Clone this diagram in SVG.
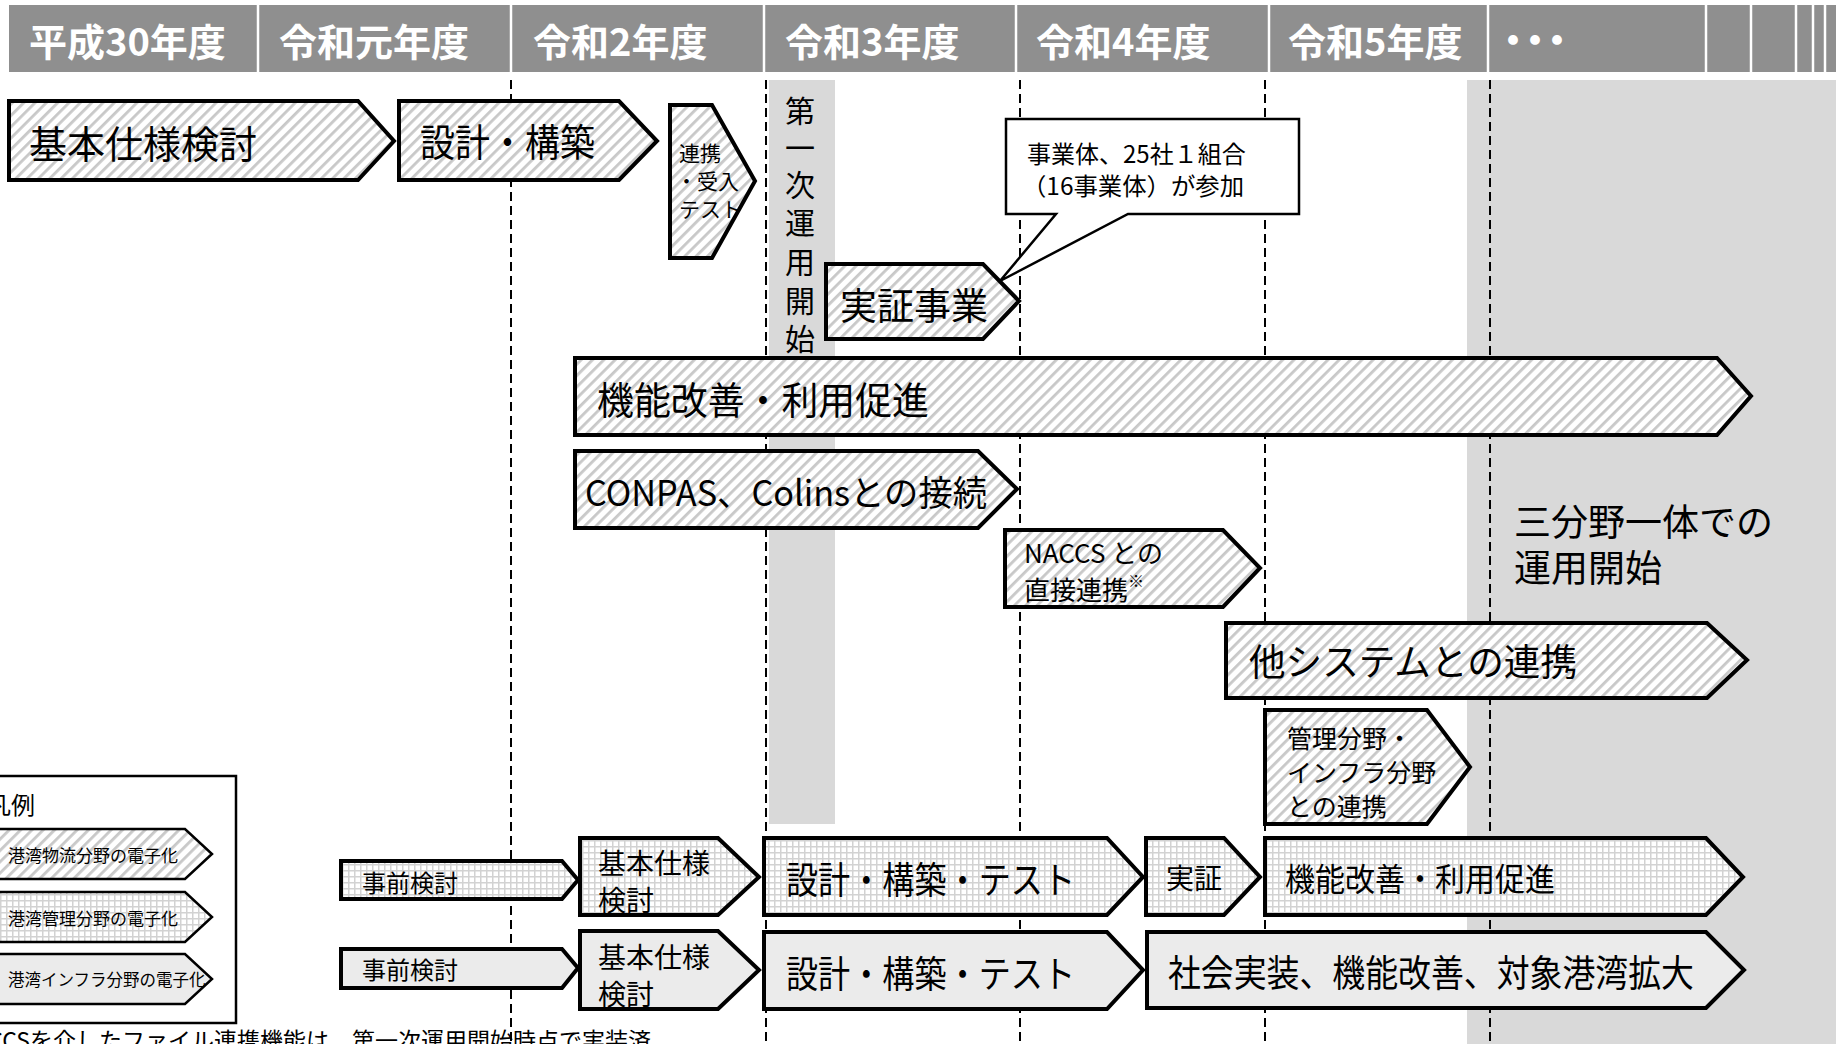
<svg xmlns="http://www.w3.org/2000/svg" width="1836" height="1044" viewBox="0 0 1836 1044">
<defs>
<pattern id="hatch" width="8" height="8" patternUnits="userSpaceOnUse" patternTransform="rotate(45)">
<rect width="8" height="8" fill="#ffffff"/>
<rect width="2.8" height="8" fill="#c8c8c8"/>
</pattern>
<pattern id="grid" width="6" height="6" patternUnits="userSpaceOnUse">
<rect width="6" height="6" fill="#d2d2d2"/>
<rect x="1.5" y="1.5" width="4.5" height="4.5" fill="#ffffff"/>
</pattern>
<style>
.t{font-family:"Noto Sans CJK JP","Noto Sans",sans-serif;fill:#000;dominant-baseline:central}
.h{font-family:"Noto Sans CJK JP","Noto Sans",sans-serif;fill:#fff;font-weight:bold;font-size:38px;dominant-baseline:central}
.a{stroke:#000;stroke-width:4;stroke-linejoin:miter}
.s{stroke:#000;stroke-width:2.5;stroke-linejoin:miter}
.hat{fill:url(#hatch)}
.grd{fill:url(#grid)}
.sol{fill:#ebebeb}
.dash{stroke:#000;stroke-width:2;stroke-dasharray:9 5;fill:none}
</style>
</defs>
<rect width="1836" height="1044" fill="#ffffff"/>
<g id="bands">
<rect x="769" y="80" width="66" height="744" fill="#d9d9d9"/>
<rect x="1467" y="80" width="369" height="964" fill="#d9d9d9"/>
</g>
<g id="header">
<rect x="9" y="5" width="1827" height="67" fill="#8f8f8f"/>
<g stroke="#ffffff" stroke-width="2.5">
<line x1="258" y1="5" x2="258" y2="72"/>
<line x1="511" y1="5" x2="511" y2="72"/>
<line x1="764" y1="5" x2="764" y2="72"/>
<line x1="1016" y1="5" x2="1016" y2="72"/>
<line x1="1269" y1="5" x2="1269" y2="72"/>
<line x1="1488" y1="5" x2="1488" y2="72"/>
<line x1="1706" y1="5" x2="1706" y2="72"/>
<line x1="1751" y1="5" x2="1751" y2="72"/>
<line x1="1796" y1="5" x2="1796" y2="72"/>
<line x1="1813" y1="5" x2="1813" y2="72"/>
<line x1="1825" y1="5" x2="1825" y2="72"/>
</g>
<text class="h" x="29" y="39">平成30年度</text>
<text class="h" x="279" y="39">令和元年度</text>
<text class="h" x="533" y="39">令和2年度</text>
<text class="h" x="785" y="39">令和3年度</text>
<text class="h" x="1036" y="39">令和4年度</text>
<text class="h" x="1288" y="39">令和5年度</text>
<text class="h" x="1494" y="37" font-size="46" letter-spacing="-16">・・・</text>
</g>
<g id="connectors">
<line class="dash" x1="511" y1="80" x2="511" y2="1044"/>
<line class="dash" x1="766" y1="80" x2="766" y2="1044"/>
<line class="dash" x1="1020" y1="80" x2="1020" y2="1044"/>
<line class="dash" x1="1265" y1="80" x2="1265" y2="1044"/>
<line class="dash" x1="1490" y1="80" x2="1490" y2="1044"/>
</g>
<g id="first-operation">
<text class="t" font-size="30" text-anchor="middle"><tspan x="800" y="109">第</tspan><tspan x="800" y="146">一</tspan><tspan x="800" y="183">次</tspan><tspan x="800" y="221">運</tspan><tspan x="800" y="260">用</tspan><tspan x="800" y="299">開</tspan><tspan x="800" y="337">始</tspan></text>
</g>
<g id="n-kihon">
<polygon class="a hat" points="9,101 358,101 394,141 358,180 9,180"/>
<text class="t" x="29" y="141" font-size="38">基本仕様検討</text>
</g>
<g id="n-sekkei">
<polygon class="a hat" points="399,101 619,101 657,141 619,180 399,180"/>
<text class="t" x="420" y="139" font-size="38" textLength="175" lengthAdjust="spacingAndGlyphs">設計・構築</text>
</g>
<g id="n-renkei-test">
<polygon class="a hat" points="670,105 712,105 755,181 712,258 670,258"/>
<text class="t" font-size="21"><tspan x="679" y="152">連携</tspan><tspan x="676" y="180">・受入</tspan><tspan x="679" y="208">テスト</tspan></text>
</g>
<g id="n-jissho">
<polygon class="a hat" points="826,264 983,264 1019,301 983,339 826,339"/>
<text class="t" x="840" y="304" font-size="37">実証事業</text>
</g>
<g id="n-callout">
<path class="s" fill="#ffffff" d="M1006,119 H1299 V214 H1128 L1000,281 L1056,214 H1006 Z"/>
<text class="t" x="1027" y="152" font-size="24">事業体、25社１組合</text>
<text class="t" x="1022" y="184" font-size="24" textLength="222" lengthAdjust="spacingAndGlyphs">（16事業体）が参加</text>
</g>
<g id="n-kinou">
<polygon class="a hat" points="575,358 1717,358 1751,396 1717,435 575,435"/>
<text class="t" x="597" y="397" font-size="38" textLength="332" lengthAdjust="spacingAndGlyphs">機能改善・利用促進</text>
</g>
<g id="n-conpas">
<polygon class="a hat" points="575,451 978,451 1017,489 978,528 575,528"/>
<text class="t" x="585" y="490" font-size="35" textLength="402" lengthAdjust="spacingAndGlyphs">CONPAS、Colinsとの接続</text>
</g>
<g id="n-naccs">
<polygon class="a hat" points="1005,530 1223,530 1260,568 1223,607 1005,607"/>
<text class="t" x="1024" y="551" font-size="26">NACCS との</text>
<text class="t" x="1024" y="588" font-size="26">直接連携<tspan font-size="16" dy="-8">※</tspan></text>
</g>
<g id="n-other">
<polygon class="a hat" points="1226,623 1707,623 1747,660 1707,698 1226,698"/>
<text class="t" x="1249" y="660" font-size="37" textLength="328" lengthAdjust="spacingAndGlyphs">他システムとの連携</text>
</g>
<g id="n-sanbunya">
<text class="t" font-size="37"><tspan x="1514" y="520">三分野一体での</tspan><tspan x="1514" y="566">運用開始</tspan></text>
</g>
<g id="n-kanri-infra">
<polygon class="a hat" points="1265,710 1427,710 1470,767 1427,824 1265,824"/>
<text class="t" font-size="25"><tspan x="1287" y="737">管理分野・</tspan><tspan x="1287" y="771">インフラ分野</tspan><tspan x="1287" y="805">との連携</tspan></text>
</g>
<g id="n-kanri-jizen">
<polygon class="a grd" points="341,861 562,861 578,880 562,899 341,899"/>
<text class="t" x="362" y="881" font-size="24">事前検討</text>
</g>
<g id="n-kanri-kihon">
<polygon class="a grd" points="580,838 718,838 759,877 718,915 580,915"/>
<text class="t" font-size="28"><tspan x="598" y="862">基本仕様</tspan><tspan x="598" y="899">検討</tspan></text>
</g>
<g id="n-kanri-sekkei">
<polygon class="a grd" points="764,838 1107,838 1143,877 1107,915 764,915"/>
<text class="t" x="786" y="878" font-size="37" textLength="289" lengthAdjust="spacingAndGlyphs">設計・構築・テスト</text>
</g>
<g id="n-kanri-jissho">
<polygon class="a grd" points="1146,838 1224,838 1260,877 1224,915 1146,915"/>
<text class="t" x="1166" y="877" font-size="28">実証</text>
</g>
<g id="n-kanri-kinou">
<polygon class="a grd" points="1265,838 1706,838 1743,877 1706,915 1265,915"/>
<text class="t" x="1285" y="877" font-size="32" textLength="270" lengthAdjust="spacingAndGlyphs">機能改善・利用促進</text>
</g>
<g id="n-infra-jizen">
<polygon class="a sol" points="341,949 562,949 578,968 562,988 341,988"/>
<text class="t" x="362" y="968" font-size="24">事前検討</text>
</g>
<g id="n-infra-kihon">
<polygon class="a sol" points="580,931 718,931 759,970 718,1009 580,1009"/>
<text class="t" font-size="28"><tspan x="598" y="956">基本仕様</tspan><tspan x="598" y="993">検討</tspan></text>
</g>
<g id="n-infra-sekkei">
<polygon class="a sol" points="764,932 1107,932 1143,970 1107,1009 764,1009"/>
<text class="t" x="786" y="972" font-size="37" textLength="289" lengthAdjust="spacingAndGlyphs">設計・構築・テスト</text>
</g>
<g id="n-infra-shakai">
<polygon class="a sol" points="1147,932 1706,932 1744,970 1706,1008 1147,1008"/>
<text class="t" x="1168" y="971" font-size="37" textLength="526" lengthAdjust="spacingAndGlyphs">社会実装、機能改善、対象港湾拡大</text>
</g>
<g id="legend">
<rect class="s" x="-5" y="776" width="241" height="247" fill="#ffffff"/>
<text class="t" x="35" y="803" font-size="24" text-anchor="end">凡例</text>
<polygon class="s hat" points="-10,829 185,829 212,854 185,879 -10,879"/>
<text class="t" x="8" y="854" font-size="17">港湾物流分野の電子化</text>
<polygon class="s grd" points="-10,892 185,892 212,917 185,942 -10,942"/>
<text class="t" x="8" y="917" font-size="17">港湾管理分野の電子化</text>
<polygon class="s sol" points="-10,954 185,954 212,979 185,1004 -10,1004"/>
<text class="t" x="8" y="979" font-size="16.5">港湾インフラ分野の電子化</text>
</g>
<g id="footnote">
<text class="t" x="651" y="1039" font-size="23" text-anchor="end">※NACCSを介したファイル連携機能は、第一次運用開始時点で実装済</text>
</g>
</svg>
